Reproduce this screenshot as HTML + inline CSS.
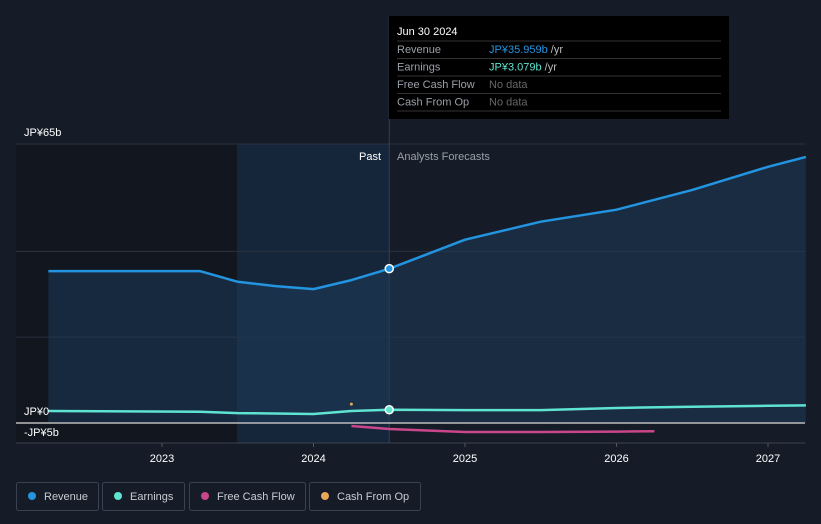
<!DOCTYPE html>
<html><head><meta charset="utf-8"><style>
body{margin:0;background:#161c27;font-family:"Liberation Sans",sans-serif;}
svg{display:block}
</style></head><body>
<svg id="c" width="821" height="524" xmlns="http://www.w3.org/2000/svg">
<rect width="821" height="524" fill="#161c27"/>
<g id="bg"></g>
<g id="marks"></g>
<g id="ui"></g>
</svg>
<script>
const years=[2023,2024,2025,2026,2027];
const revX=[2022.25,2023.25,2023.5,2023.75,2024.0,2024.25,2024.5,2025.0,2025.5,2026.0,2026.5,2027.0,2027.25];
const revY=[35.4,35.4,32.9,31.9,31.2,33.3,35.959,42.7,46.9,49.7,54.3,59.7,62.0];
const earnX=[2022.25,2023.25,2023.5,2024.0,2024.25,2024.5,2025.0,2025.5,2026.0,2026.5,2027.0,2027.25];
const earnY=[2.8,2.6,2.3,2.1,2.8,3.079,3.0,3.0,3.5,3.8,4.0,4.1];
const fcfX=[2024.25,2024.5,2025.0,2025.5,2026.0,2026.25];
const fcfY=[-0.7,-1.4,-2.1,-2.1,-2.0,-1.9];
const cfoX=[2024.25];
const cfoY=[4.4];
const gridVals=[65,40,20];
const NS="http://www.w3.org/2000/svg";
const xs=t=>162+(t-2023)*151.5;
const ys=v=>423-v*4.292;
function el(parent,tag,attrs,name,inter){const e=document.createElementNS(NS,tag);for(const k in attrs)e.setAttribute(k,attrs[k]);


document.getElementById(parent).appendChild(e);return e;}
const pastX=xs(2024.5);
el('bg','rect',{x:16,y:144,width:221,height:299,fill:'#11161f'},'past-region',false);
el('bg','rect',{x:237,y:144,width:pastX-237,height:299,fill:'#15263a'},'highlight-region',false);
for(const g of gridVals){el('bg','line',{x1:16,x2:805,y1:ys(g),y2:ys(g),stroke:'#2b3240','stroke-width':1},'gridline',false);}
el('bg','line',{x1:pastX,x2:pastX,y1:16,y2:443,stroke:'#2e4258','stroke-width':1},'today-line',false);
el('bg','line',{x1:16,x2:805,y1:443,y2:443,stroke:'#3a4150','stroke-width':1},'x-axis',false);
for(const y of years){const x=xs(y);el('bg','line',{x1:x,x2:x,y1:443,y2:447,stroke:'#555',},'x-tick',false);
const t=el('bg','text',{x:x,y:462,fill:'#fff','font-size':11,'text-anchor':'middle'},'x-tick-label',false);t.textContent=y;}
function path(X,Y){return X.map((x,i)=>(i?'L':'M')+xs(x).toFixed(1)+','+ys(Y[i]).toFixed(1)).join('');}
el('marks','path',{d:path(revX,revY)+'L'+xs(revX[revX.length-1])+','+ys(0)+'L'+xs(revX[0])+','+ys(0)+'Z',fill:'#1d3a57','fill-opacity':0.55},'revenue-area',false);
el('marks','path',{d:path(revX,revY),fill:'none',stroke:'#2394e0','stroke-width':2.5,'stroke-linejoin':'round'},'revenue-line',false);
el('marks','path',{d:path(earnX,earnY),fill:'none',stroke:'#5ee4d0','stroke-width':2.5,'stroke-linejoin':'round'},'earnings-line',false);
el('marks','path',{d:path(fcfX,fcfY),fill:'none',stroke:'#c9468b','stroke-width':2.5,'stroke-linejoin':'round'},'fcf-line',false);
for(let i=0;i<cfoX.length;i++)el('marks','circle',{cx:xs(cfoX[i]),cy:ys(cfoY[i]),r:1.5,fill:'#e8a85a'},'cfo-point',false);
el('marks','line',{x1:16,x2:805,y1:ys(0),y2:ys(0),stroke:'#bbb','stroke-width':1.5},'zero-line',false);
el('marks','circle',{cx:pastX,cy:ys(35.959),r:4,fill:'#2394e0',stroke:'#fff','stroke-width':1.5},'revenue-marker',false);
el('marks','circle',{cx:pastX,cy:ys(3.079),r:4,fill:'#5ee4d0',stroke:'#fff','stroke-width':1.5},'earnings-marker',false);
function txt(x,y,s,fill,size,name,anchor){const t=el('ui','text',{x:x,y:y,fill:fill,'font-size':size,'text-anchor':anchor||'start'},name,false);t.textContent=s;return t;}
txt(24,136,'JP¥65b','#fff',11,'y-label-top');
txt(24,415,'JP¥0','#fff',11,'y-label-zero');
txt(24,436,'-JP¥5b','#fff',11,'y-label-neg');
txt(381,160,'Past','#fff',11,'past-label','end');
txt(397,160,'Analysts Forecasts','#9aa0a8',11,'forecast-label');
el('ui','rect',{x:389,y:16,width:340,height:103,fill:'#000'},'tooltip',false);
txt(397,35,'Jun 30 2024','#fff',11,'tooltip-date');
const rows=[['Revenue','JP¥35.959b','#2394e0'],['Earnings','JP¥3.079b','#5ee4d0'],['Free Cash Flow','No data','#666'],['Cash From Op','No data','#666']];
rows.forEach((r,i)=>{const y=41+i*17.5;el('ui','line',{x1:397,x2:721,y1:y,y2:y,stroke:'#333'},'tooltip-divider',false);
txt(397,y+12,r[0],'#9aa0a8',11,'tooltip-row-label');const t=txt(489,y+12,r[1],r[2],11,'tooltip-row-value');
if(i<2){const s=document.createElementNS(NS,'tspan');s.setAttribute('fill','#bbb');s.textContent=' /yr';t.appendChild(s);}});
el('ui','line',{x1:397,x2:721,y1:111,y2:111,stroke:'#333'},'tooltip-divider',false);
const legend=[['Revenue','#2394e0',16,82],['Earnings','#5ee4d0',102,82],['Free Cash Flow','#c9468b',189,116],['Cash From Op','#e8a85a',309,111]];
legend.forEach(l=>{el('ui','rect',{x:l[2]+0.5,y:482.5,width:l[3],height:28,rx:2,fill:'none',stroke:'#3a4150'},'legend-entry',true);
el('ui','circle',{cx:l[2]+16,cy:496,r:4,fill:l[1]},'legend-dot',false);
txt(l[2]+28,500,l[0],'#c8ccd2',11,'legend-label');});
</script>
</body></html>
